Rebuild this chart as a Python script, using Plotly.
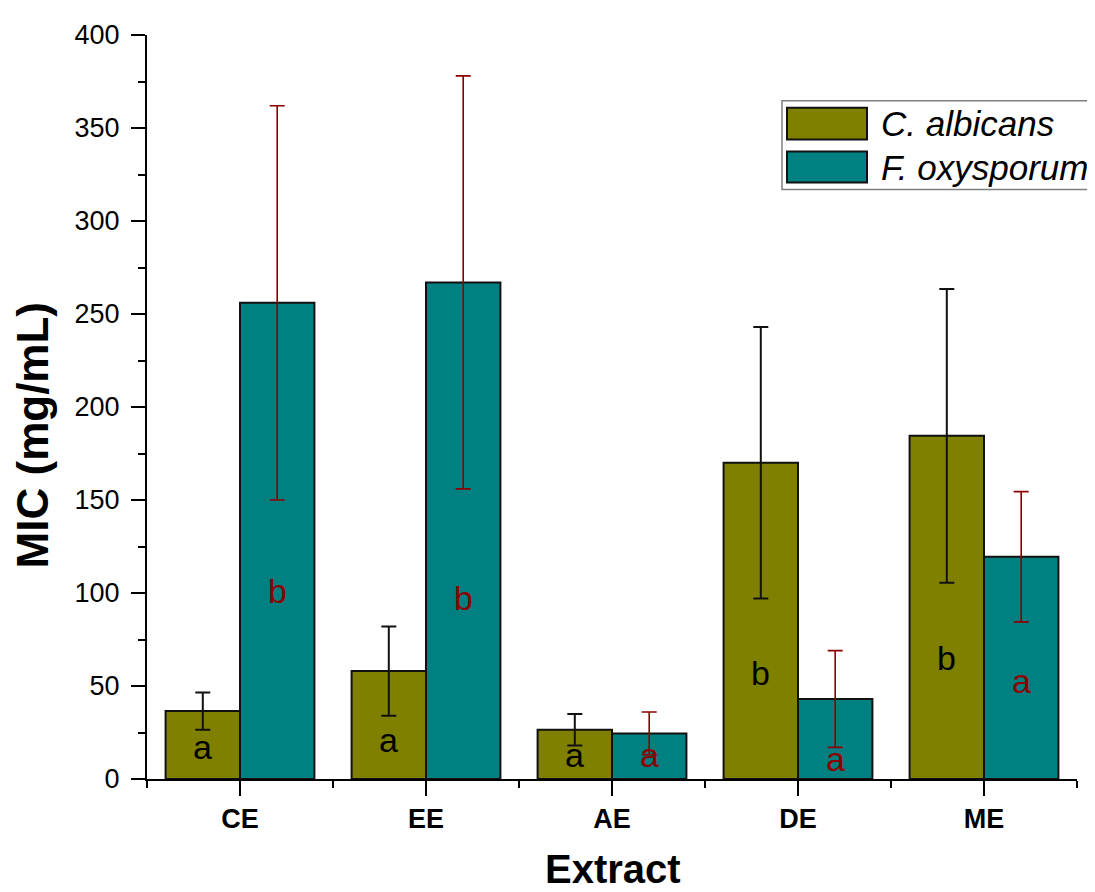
import plotly.graph_objects as go

# ---------------- data ----------------
categories = ["CE", "EE", "AE", "DE", "ME"]
series_names = ["C. albicans", "F. oxysporum"]

albicans_mic = [36.5, 58, 26.5, 170, 184.5]
albicans_err = [10, 24, 8.5, 73, 79]

oxysporum_mic = [256, 267, 24.5, 43, 119.5]
oxysporum_err = [106, 111, 11.5, 26, 35]

albicans_letters = ["a", "a", "a", "b", "b"]
albicans_letter_y = [17, 21, 13, 57, 65]
oxysporum_letters = ["b", "b", "a", "a", "a"]
oxysporum_letter_y = [101, 97.5, 13, 11, 52.5]

y_ticks = [0, 50, 100, 150, 200, 250, 300, 350, 400]

# ---------------- style ----------------
FONT = "Liberation Sans, Arial, Helvetica, sans-serif"
OLIVE = "#808000"
TEAL = "#008080"
DARKRED = "#8B0000"

PAGE_OFF = 8  # default body margin of the html page
PAGE_W, PAGE_H = 1095, 892
W, H = PAGE_W - PAGE_OFF, PAGE_H - PAGE_OFF
PLOT_L, PLOT_R, PLOT_T, PLOT_B = 147, 1077, 32, 779  # page pixels
L = PLOT_L - PAGE_OFF
T = PLOT_T - PAGE_OFF
R = PAGE_W - PLOT_R
B = PAGE_H - PLOT_B
PW, PH = PLOT_R - PLOT_L, PLOT_B - PLOT_T

def px_x(p):
    return (p - PLOT_L) / PW

def px_y(p):
    return (PLOT_B - p) / PH

xs = list(range(len(categories)))

fig = go.Figure()
fig.add_trace(go.Bar(
    x=xs, y=albicans_mic, name=series_names[0],
    marker=dict(color=OLIVE, line=dict(color="#111111", width=2)),
    error_y=dict(type="data", array=albicans_err, color="#111111",
                 thickness=2, width=7.5),
    showlegend=False,
))
fig.add_trace(go.Bar(
    x=xs, y=oxysporum_mic, name=series_names[1],
    marker=dict(color=TEAL, line=dict(color="#111111", width=2)),
    error_y=dict(type="data", array=oxysporum_err, color=DARKRED,
                 thickness=1.6, width=7.5),
    showlegend=False,
))

annotations = []
for i in xs:
    annotations.append(dict(x=i - 0.2, y=albicans_letter_y[i], xref="x", yref="y",
                            text=albicans_letters[i], showarrow=False,
                            font=dict(family=FONT, size=34, color="#000000"),
                            xanchor="center", yanchor="middle"))
    annotations.append(dict(x=i + 0.2, y=oxysporum_letter_y[i], xref="x", yref="y",
                            text=oxysporum_letters[i], showarrow=False,
                            font=dict(family=FONT, size=34, color=DARKRED),
                            xanchor="center", yanchor="middle"))

# axis titles
annotations.append(dict(x=px_x(613), y=px_y(869), xref="paper", yref="paper",
                        text="<b>Extract</b>", showarrow=False,
                        font=dict(family=FONT, size=40, color="#000000"),
                        xanchor="center", yanchor="middle", borderpad=0))
annotations.append(dict(x=px_x(32), y=px_y(434), xref="paper", yref="paper",
                        text="<b>MIC (mg/mL)</b>", showarrow=False, textangle=-90,
                        font=dict(family=FONT, size=44, color="#000000"),
                        xanchor="center", yanchor="middle", borderpad=0))

# legend (drawn)
shapes = [
    dict(type="rect", xref="paper", yref="paper",
         x0=px_x(782), x1=px_x(1120), y0=px_y(187), y1=px_y(98),
         line=dict(color="#7f7f7f", width=1.5), fillcolor="rgba(0,0,0,0)"),
    dict(type="rect", xref="paper", yref="paper",
         x0=px_x(787), x1=px_x(867), y0=px_y(137), y1=px_y(105),
         line=dict(color="#111111", width=2), fillcolor=OLIVE),
    dict(type="rect", xref="paper", yref="paper",
         x0=px_x(787), x1=px_x(867), y0=px_y(180), y1=px_y(149),
         line=dict(color="#111111", width=2), fillcolor=TEAL),
]
for name, cy in zip(series_names, [121, 165]):
    annotations.append(dict(x=px_x(879), y=px_y(cy), xref="paper", yref="paper",
                            text="<i>" + name + "</i>", showarrow=False,
                            font=dict(family=FONT, size=35, color="#000000"),
                            xanchor="left", yanchor="middle"))

fig.update_layout(
    width=W, height=H,
    margin=dict(l=L, r=R, t=T, b=B, pad=0),
    paper_bgcolor="white", plot_bgcolor="white",
    barmode="group", bargap=0.2, bargroupgap=0,
    annotations=annotations, shapes=shapes,
    font=dict(family=FONT, color="#000000"),
)
fig.update_xaxes(
    range=[-0.5, 4.5], tickmode="array", tickvals=xs, ticktext=categories,
    showline=True, linecolor="#000000", linewidth=2,
    ticks="outside", ticklen=15, tickwidth=2, tickcolor="#000000",
    minor=dict(tickvals=[i - 0.5 for i in range(len(categories) + 1)],
               ticks="outside", ticklen=7, tickwidth=2, tickcolor="#000000"),
    tickfont=dict(family=FONT, size=27, color="#000000", weight="bold"),
    showgrid=False, zeroline=False,
)
fig.update_yaxes(
    range=[0, 400], tickmode="array", tickvals=y_ticks,
    showline=True, linecolor="#000000", linewidth=2,
    ticks="outside", ticklen=14, tickwidth=2, tickcolor="#000000",
    minor=dict(dtick=25, ticks="outside", ticklen=7, tickwidth=2, tickcolor="#000000"),
    tickfont=dict(family=FONT, size=27, color="#000000"),
    ticklabelstandoff=6,
    showgrid=False, zeroline=False,
)

fig.write_html("out.html")
